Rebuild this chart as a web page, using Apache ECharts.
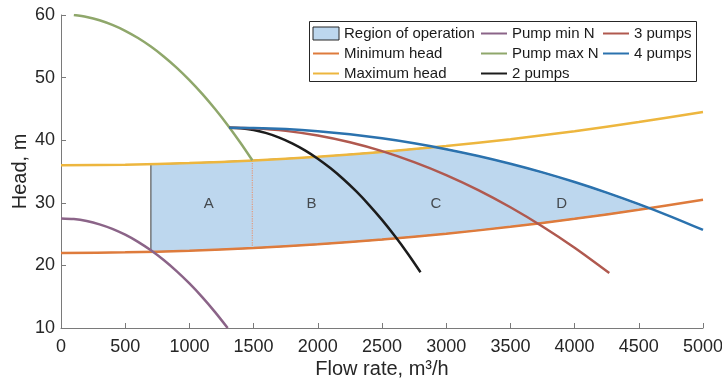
<!DOCTYPE html>
<html>
<head>
<meta charset="utf-8">
<script src="https://cdn.jsdelivr.net/npm/echarts@6/dist/echarts.min.js"></script>
<style>
  html, body { margin: 0; padding: 0; background: #fff; }
  #chart { width: 722px; height: 385px; }
</style>
</head>
<body>
<div id="chart"></div>
<script>
// flow rate (m3/h) and head (m)
const headQ = [0, 500, 1000, 1500, 2000, 2500, 3000, 3500, 4000, 4500, 5000];
const maxHead = [36.0, 36.09, 36.34, 36.77, 37.36, 38.13, 39.06, 40.17, 41.44, 42.89, 44.5];
const minHead = [22.0, 22.09, 22.34, 22.77, 23.36, 24.13, 25.06, 26.17, 27.44, 28.89, 30.5];

const pumpMinQ = [0, 100, 200, 300, 400, 500, 600, 700, 800, 900, 1000, 1100, 1200, 1298];
const pumpMinH = [27.5, 27.4, 27.08, 26.56, 25.84, 24.9, 23.76, 22.41, 20.85, 19.08, 17.11, 14.93, 12.54, 10.0];

const pumpMaxQ = [100, 200, 300, 400, 500, 600, 700, 800, 900, 1000, 1100, 1200, 1300, 1400, 1490];
const pumpMaxH = [60.0, 59.68, 59.16, 58.42, 57.48, 56.32, 54.96, 53.38, 51.6, 49.6, 47.4, 44.98, 42.36, 39.52, 36.8];

const twoQ = [1310, 1400, 1500, 1600, 1700, 1800, 1900, 2000, 2100, 2200, 2300, 2400, 2500, 2600, 2700, 2800];
const twoH = [42.0, 41.92, 41.62, 41.13, 40.42, 39.5, 38.38, 37.05, 35.51, 33.76, 31.81, 29.64, 27.27, 24.69, 21.91, 18.91];

const threeQ = [1310, 1500, 1750, 2000, 2250, 2500, 2750, 3000, 3250, 3500, 3750, 4000, 4270];
const threeH = [42.0, 41.9, 41.49, 40.74, 39.66, 38.25, 36.5, 34.43, 32.03, 29.29, 26.22, 22.82, 18.78];

const fourQ = [1310, 1500, 1750, 2000, 2250, 2500, 2750, 3000, 3250, 3500, 3750, 4000, 4250, 4500, 4750, 5000];
const fourH = [42.0, 41.96, 41.77, 41.43, 40.94, 40.3, 39.51, 38.57, 37.48, 36.24, 34.86, 33.32, 31.63, 29.79, 27.8, 25.66];

// outline of the region of operation
const regionQ = [700, 700, 1000, 1500, 2000, 2500, 2910, 3000, 3250, 3500, 3750, 4000, 4250, 4500, 4580, 4500, 4000, 3500, 3000, 2500, 2000, 1500, 1000];
const regionH = [22.17, 36.17, 36.34, 36.77, 37.36, 38.13, 38.88, 38.57, 37.48, 36.24, 34.86, 33.32, 31.63, 29.79, 29.13, 28.89, 27.44, 26.17, 25.06, 24.13, 23.36, 22.77, 22.34];

const splitQ = [1490, 1490];
const splitH = [22.75, 36.8];

const zoneNames = ['A', 'B', 'C', 'D'];
const zoneQ = [1150, 1950, 2920, 3900];
const zoneH = [29.8, 29.8, 29.8, 29.8];

const font = 'Liberation Sans, Arial, sans-serif';
const pairs = (xs, ys) => xs.map((x, i) => [x, ys[i]]);

function curve(name, xs, ys, color) {
    return {
        name: name,
        type: 'line',
        data: pairs(xs, ys),
        symbol: 'none',
        smooth: 0.3,
        lineStyle: { color: color, width: 2.5 },
        itemStyle: { color: color },
        z: 3
    };
}

// the line icons get a dot by default, hide it
const legendBase = {
    orient: 'vertical',
    top: 26,
    padding: 0,
    itemGap: 5,
    itemWidth: 26,
    itemHeight: 13,
    itemStyle: { opacity: 0 },
    textStyle: { fontFamily: font, fontSize: 15, color: '#1a1a1a', lineHeight: 15 }
};

const chart = echarts.init(document.getElementById('chart'));

chart.setOption({
    animation: false,
    grid: { left: 61, right: 19, top: 15, bottom: 57, outerBoundsMode: 'none' },
    xAxis: {
        type: 'value',
        min: 0,
        max: 5000,
        interval: 500,
        name: 'Flow rate, m³/h',
        nameLocation: 'middle',
        nameGap: 31,
        nameMoveOverlap: false,
        nameTextStyle: { fontFamily: font, fontSize: 20, color: '#262626' },
        axisLine: { lineStyle: { color: '#7a7a7a', width: 1 } },
        axisTick: { inside: true, length: 5, lineStyle: { color: '#7a7a7a' } },
        axisLabel: { fontFamily: font, fontSize: 18, color: '#262626', margin: 10, formatter: (v) => String(v) },
        splitLine: { show: false }
    },
    yAxis: {
        type: 'value',
        min: 10,
        max: 60,
        interval: 10,
        name: 'Head, m',
        nameLocation: 'middle',
        nameGap: 31,
        nameMoveOverlap: false,
        nameTextStyle: { fontFamily: font, fontSize: 20, color: '#262626' },
        axisLine: { show: true, lineStyle: { color: '#7a7a7a', width: 1 } },
        axisTick: { show: true, inside: true, length: 5, lineStyle: { color: '#7a7a7a' } },
        axisLabel: { fontFamily: font, fontSize: 18, color: '#262626', margin: 6, formatter: (v) => String(v) },
        splitLine: { show: false }
    },
    legend: [
        Object.assign({}, legendBase, {
            left: 312,
            data: [
                { name: 'Region of operation', icon: 'rect',
                  itemStyle: { color: '#BDD7EE', borderColor: '#262626', borderWidth: 1, opacity: 1 } },
                'Minimum head', 'Maximum head'
            ]
        }),
        Object.assign({}, legendBase, { left: 480, data: ['Pump min N', 'Pump max N', '2 pumps'] }),
        Object.assign({}, legendBase, { left: 602, data: ['3 pumps', '4 pumps'] })
    ],
    graphic: [{
        type: 'rect',
        shape: { x: 309.5, y: 21.5, width: 387, height: 60 },
        style: { fill: 'none', stroke: '#262626', lineWidth: 1 },
        z: 10
    }],
    series: [
        {
            name: 'Region of operation',
            type: 'custom',
            data: [[regionQ[0], regionH[0]]],
            itemStyle: { color: '#BDD7EE' },
            renderItem: function (params, api) {
                const pts = regionQ.map((q, i) => api.coord([q, regionH[i]]));
                return {
                    type: 'polygon',
                    shape: { points: pts },
                    style: { fill: '#BDD7EE', stroke: '#5a5a5a', lineWidth: 1.2 }
                };
            },
            z: 1
        },
        {
            name: 'split',
            type: 'line',
            data: pairs(splitQ, splitH),
            symbol: 'none',
            lineStyle: { color: '#E49A7C', width: 1.2, type: 'dotted' },
            z: 2
        },
        curve('Minimum head', headQ, minHead, '#DE7B3C'),
        curve('Maximum head', headQ, maxHead, '#EDB63E'),
        curve('Pump min N', pumpMinQ, pumpMinH, '#8B6488'),
        curve('Pump max N', pumpMaxQ, pumpMaxH, '#8FA76B'),
        curve('2 pumps', twoQ, twoH, '#1c1c1c'),
        curve('3 pumps', threeQ, threeH, '#B0594F'),
        curve('4 pumps', fourQ, fourH, '#2B72AE'),
        {
            name: 'zones',
            type: 'scatter',
            data: zoneQ.map((q, i) => [q, zoneH[i], zoneNames[i]]),
            symbolSize: 0,
            label: {
                show: true,
                position: 'inside',
                formatter: (p) => p.value[2],
                fontFamily: font,
                fontSize: 15,
                color: '#262626'
            },
            z: 5
        }
    ]
});
</script>
</body>
</html>
